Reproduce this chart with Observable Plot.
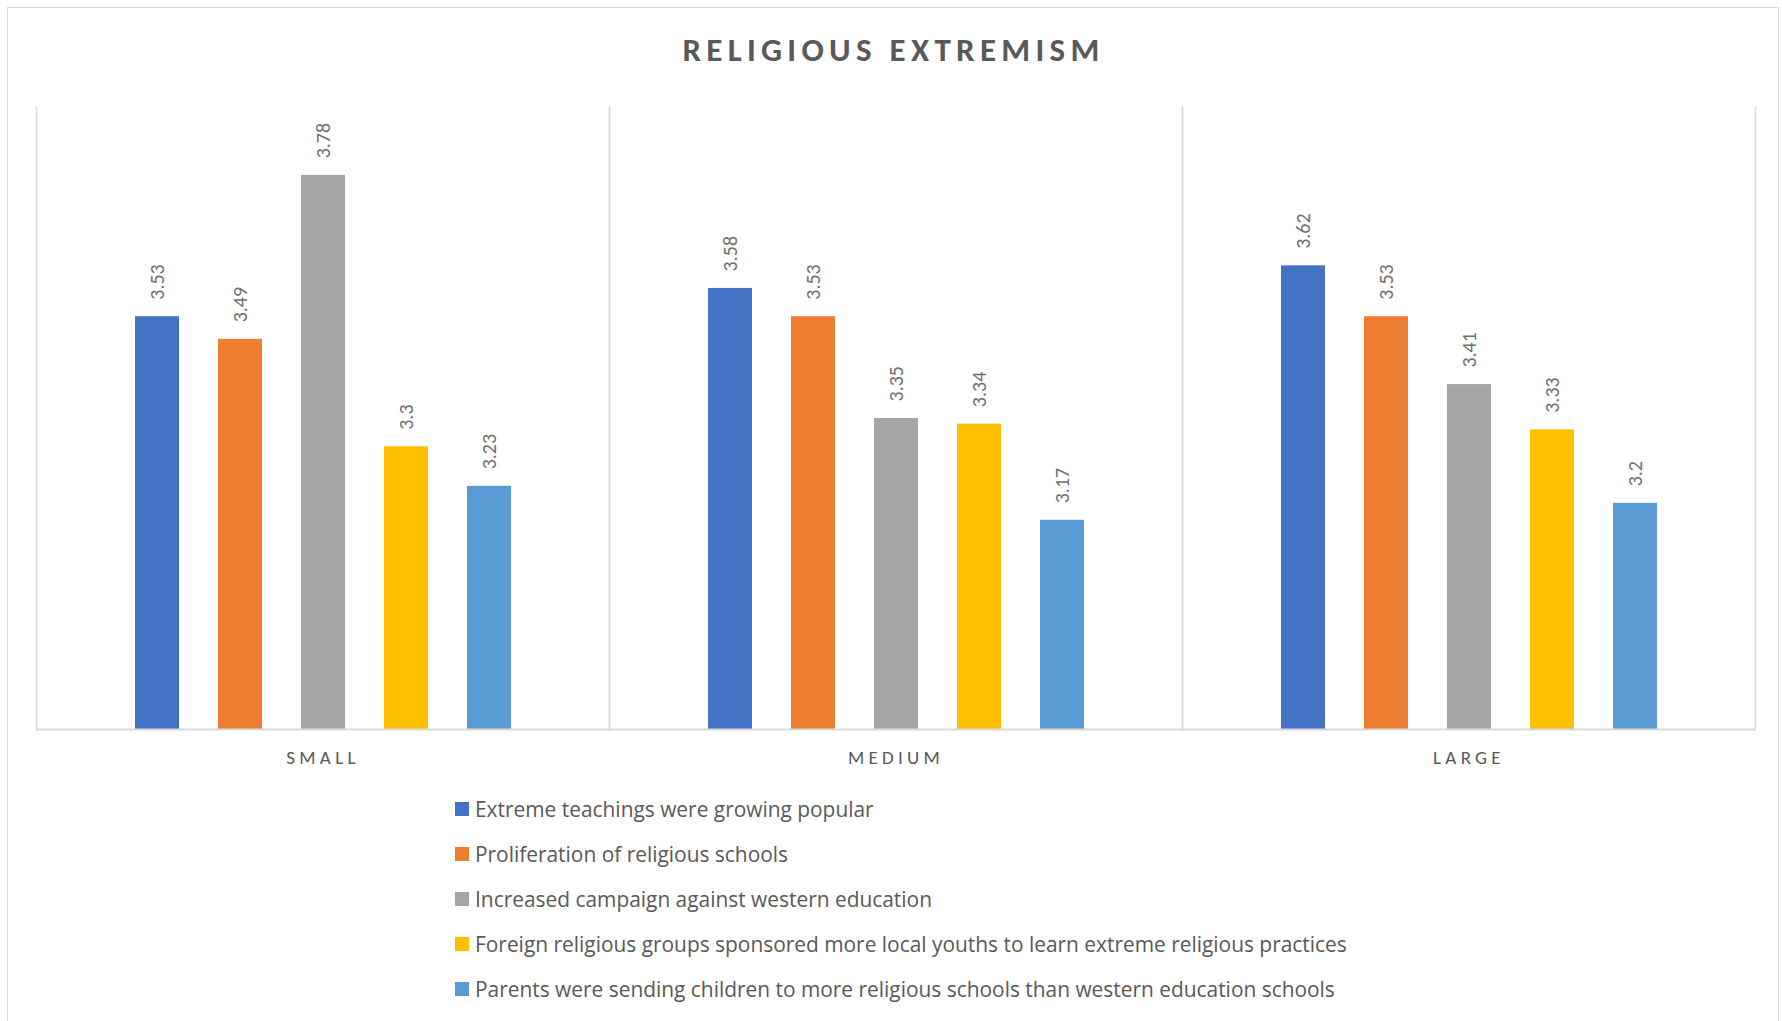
<!DOCTYPE html>
<html>
<head>
<meta charset="utf-8">
<script src="https://cdn.jsdelivr.net/npm/d3@7"></script>
<script src="https://cdn.jsdelivr.net/npm/@observablehq/plot@0.6"></script>
<style>
  html, body { margin: 0; padding: 0; background: #fff; }
  body { width: 1782px; height: 1021px; position: relative; overflow: hidden; font-family: Carlito, Lato, "Open Sans", sans-serif; }
  #frame { position: absolute; left: 7px; top: 7px; width: 1772px; height: 1040px; border: 1.5px solid #d9d9d9; box-sizing: border-box; }
  #title { position: absolute; left: 0; top: 30px; width: 1787px; text-align: center; font-size: 33px; line-height: 40px; font-weight: 700; color: #595959; letter-spacing: 5.3px; }
  #chart { position: absolute; left: 0; top: 0; }
  #legend { position: absolute; left: 455px; top: 786px; color: #595959; font-size: 20.9px; font-family: "Open Sans", Lato, sans-serif; }
  .row { display: flex; align-items: center; height: 45px; }
  .sw { width: 14px; height: 14px; margin-right: 6px; flex: none; }
  g[aria-label^="fx-axis"] text { letter-spacing: 4.3px; }
</style>
</head>
<body>
<div id="frame"></div>
<div id="title">RELIGIOUS EXTREMISM</div>
<div id="chart"></div>
<div id="legend"></div>
<script>
const sizes = ["SMALL", "MEDIUM", "LARGE"];
const series = [
  "Extreme teachings were growing popular",
  "Proliferation of religious schools",
  "Increased campaign against western education",
  "Foreign religious groups sponsored more local youths to learn extreme religious practices",
  "Parents were sending children to more religious schools than western education schools"
];
const colors = ["#4472C4", "#ED7D31", "#A5A5A5", "#FFC000", "#5B9BD5"];
const smallValues = [3.53, 3.49, 3.78, 3.30, 3.23];
const mediumValues = [3.58, 3.53, 3.35, 3.34, 3.17];
const largeValues = [3.62, 3.53, 3.41, 3.33, 3.20];
const yDomain = [2.8, 3.9];
const gridColor = "#d9d9d9";

const valuesBySize = [smallValues, mediumValues, largeValues];
const rows = [];
sizes.forEach((size, i) => {
  series.forEach((s, j) => rows.push({size, series: s, value: valuesBySize[i][j]}));
});

const chart = Plot.plot({
  width: 1782,
  height: 800,
  marginTop: 107,
  marginLeft: 36,
  marginRight: 27,
  marginBottom: 71,
  style: {fontFamily: "Carlito, Lato, 'Open Sans', sans-serif", fontSize: "19px", color: "#595959", background: "transparent"},
  fx: {domain: sizes, padding: 0, label: null, tickSize: 0, tickPadding: 21},
  x: {domain: series, paddingInner: 0.473, paddingOuter: 1.168, axis: null},
  y: {domain: yDomain, axis: null},
  color: {domain: series, range: colors},
  marks: [
    Plot.frame({anchor: "left", stroke: gridColor, strokeWidth: 1.5}),
    Plot.frame({anchor: "right", stroke: gridColor, strokeWidth: 1.5}),
    Plot.barY(rows, {fx: "size", x: "series", y1: yDomain[0], y2: "value", fill: "series"}),
    Plot.ruleY([yDomain[0]], {stroke: gridColor, strokeWidth: 2}),
    Plot.text(rows, {fx: "size", x: "series", y: "value", text: d => String(d.value), rotate: -90, textAnchor: "start", dy: -17, fontSize: 20, fill: "#707070"})
  ]
});
document.getElementById("chart").appendChild(chart);

const legend = document.getElementById("legend");
series.forEach((s, i) => {
  const row = document.createElement("div");
  row.className = "row";
  const sw = document.createElement("span");
  sw.className = "sw";
  sw.style.background = colors[i];
  const t = document.createElement("span");
  t.textContent = s;
  row.appendChild(sw);
  row.appendChild(t);
  legend.appendChild(row);
});
</script>
</body>
</html>
